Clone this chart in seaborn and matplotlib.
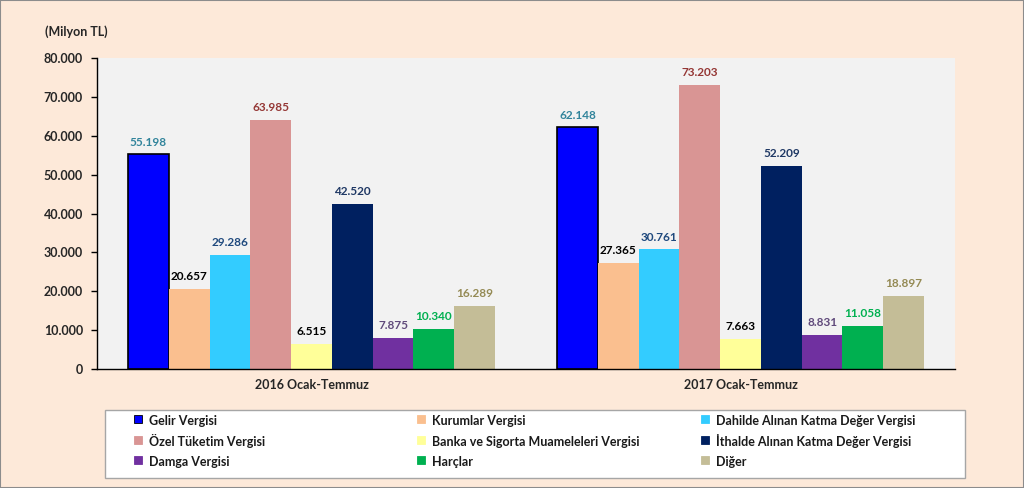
import matplotlib
matplotlib.use("Agg")
import matplotlib.pyplot as plt
import seaborn as sns
import pandas as pd
from matplotlib.patches import Rectangle
from matplotlib.lines import Line2D
from matplotlib.ticker import FuncFormatter, FixedLocator

periods = ["2016 Ocak-Temmuz", "2017 Ocak-Temmuz"]
taxes = ["Gelir Vergisi", "Kurumlar Vergisi", "Dahilde Alınan Katma Değer Vergisi",
         "Özel Tüketim Vergisi", "Banka ve Sigorta Muameleleri Vergisi",
         "İthalde Alınan Katma Değer Vergisi", "Damga Vergisi", "Harçlar", "Diğer"]
values_2016 = [55198, 20657, 29286, 63985, 6515, 42520, 7875, 10340, 16289]
values_2017 = [62148, 27365, 30761, 73203, 7663, 52209, 8831, 11058, 18897]

bar_colors = ["#0000FF", "#FABF8F", "#33CCFF", "#D99594", "#FFFF99",
              "#002060", "#7030A0", "#00B050", "#C4BD97"]
label_colors = ["#31849B", "#000000", "#1F497D", "#953735", "#000000",
                "#1F3864", "#604A7B", "#00B050", "#948A54"]

rows = []
for t, a, b in zip(taxes, values_2016, values_2017):
    rows.append({"period": periods[0], "tax": t, "value": a})
    rows.append({"period": periods[1], "tax": t, "value": b})
df = pd.DataFrame(rows)

sns.set_style("white")
plt.rcParams["font.family"] = ["Lato", "DejaVu Sans"]

fig = plt.figure(figsize=(10.24, 4.88), dpi=100, facecolor="#FDE9D9")
ax = fig.add_axes([0.0947, 0.2439, 0.838, 0.637])
ax.set_facecolor("#F2F2F2")

sns.barplot(data=df, x="period", y="value", hue="tax", hue_order=taxes,
            order=periods, palette=bar_colors, width=0.855, gap=0,
            saturation=1, ax=ax, legend=False, linewidth=0)

for patch in ax.containers[0]:
    patch.set_edgecolor("black")
    patch.set_linewidth(1.2)

fmt = lambda v: f"{int(v):,}".replace(",", ".")
for cont, lc in zip(ax.containers, label_colors):
    ax.bar_label(cont, labels=[fmt(p.get_height()) for p in cont], padding=5,
                 color=lc, fontsize=8.5, fontweight="bold")

ax.set_ylim(0, 80000)
ax.set_xlim(-0.5, 1.5)
ax.set_yticks(range(0, 80001, 10000))
ax.yaxis.set_major_formatter(FuncFormatter(lambda v, p: fmt(v)))
ax.tick_params(axis="y", direction="out", length=4, width=1, color="black",
               labelsize=9, left=True, pad=6)
for lbl in ax.get_yticklabels():
    lbl.set_fontweight("bold")
ax.tick_params(axis="x", length=0, labelsize=9, pad=7)
for lbl in ax.get_xticklabels():
    lbl.set_fontweight("bold")
ax.xaxis.set_minor_locator(FixedLocator([-0.5, 0.5, 1.5]))
ax.tick_params(axis="x", which="minor", direction="out", length=5, width=1, color="black")
ax.set_xlabel("")
ax.set_ylabel("")
for s in ["top", "right"]:
    ax.spines[s].set_visible(False)
for s in ["left", "bottom"]:
    ax.spines[s].set_color("black")
    ax.spines[s].set_linewidth(1)

fig.text(0.044, 0.935, "(Milyon TL)", fontsize=9, fontweight="bold", ha="left", va="center")

# legend box
W, H = 1024, 488
fig.patches.append(Rectangle((105 / W, 1 - 478 / H), 860 / W, 68 / H,
                             transform=fig.transFigure, facecolor="white",
                             edgecolor="#A6A6A6", linewidth=1, zorder=0))
handles = [Line2D([], [], marker="s", linestyle="none", markersize=6,
                  markerfacecolor=c, markeredgecolor=("black" if i == 0 else c),
                  markeredgewidth=0.6)
           for i, c in enumerate(bar_colors)]
col_x = [133, 416, 700]
for ci in range(3):
    idx = [ci, ci + 3, ci + 6]
    lg = fig.legend([handles[i] for i in idx], [taxes[i] for i in idx],
                    loc="upper left", bbox_to_anchor=(col_x[ci] / W, 1 - 412 / H),
                    frameon=False, handlelength=0.6, handleheight=1.6,
                    handletextpad=0.6, borderpad=0.1, labelspacing=0.33,
                    borderaxespad=0, prop={"weight": "bold", "size": 9})
    for t in lg.get_texts():
        t.set_color("#1a1a1a")

fig.patches.append(Rectangle((0, 0), 1, 1, transform=fig.transFigure,
                             fill=False, edgecolor="#8c8c8c", linewidth=1.5))

fig.savefig("out.png", dpi=100, facecolor=fig.get_facecolor())
